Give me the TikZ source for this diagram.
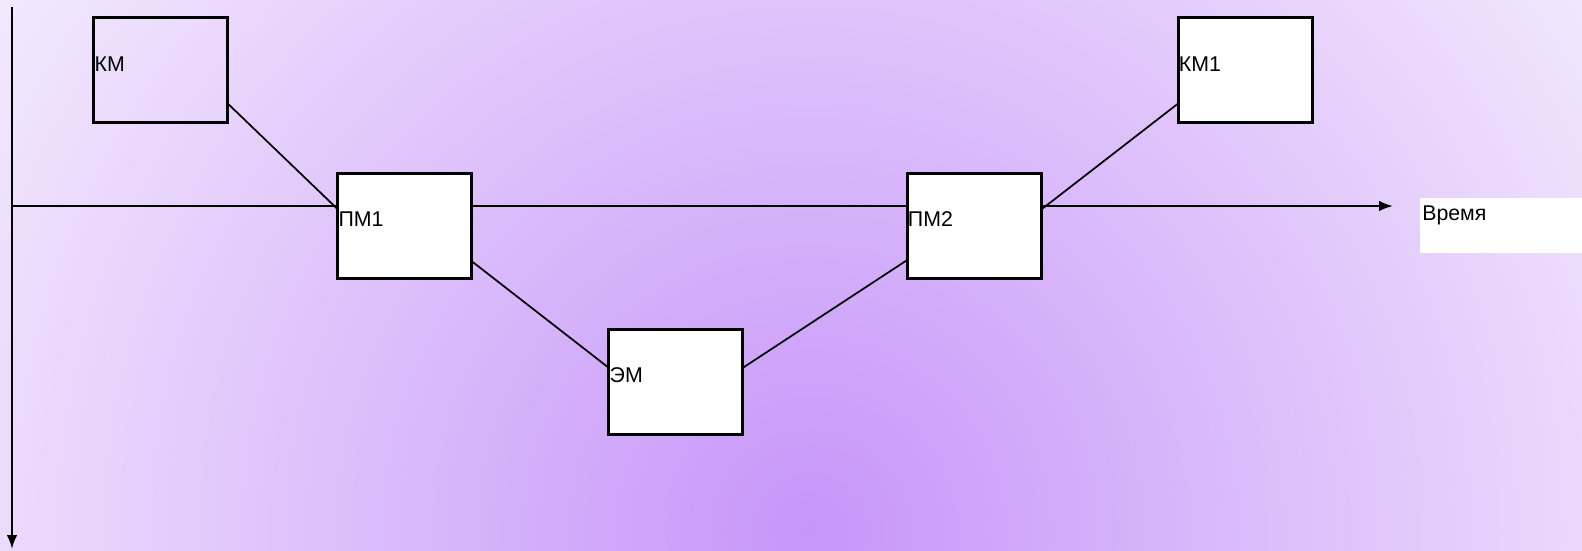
\documentclass[tikz,border=0pt]{standalone}
\usepackage{fontspec}
\setmainfont{Liberation Sans}
\usetikzlibrary{arrows.meta,calc}
\definecolor{bgin}{RGB}{199,150,249}
\definecolor{bgout}{RGB}{244,236,253}
\pgfdeclareradialshading{bgshade}{\pgfpointorigin}{color(0bp)=(bgin); color(25bp)=(bgout); color(50bp)=(bgout)}
\begin{document}
\begin{tikzpicture}[x=0.75pt,y=-0.75pt,
  box/.style={draw=black,line width=2.25pt,minimum width=100.5pt,minimum height=78.75pt,inner sep=0pt,outer sep=0pt},
  wbox/.style={box,fill=white},
  lbl/.style={font=\fontsize{16pt}{19pt}\selectfont,inner sep=0pt,anchor=base west},
  conn/.style={line width=1.3pt,black},
  axis/.style={line width=1.6pt,black,-{Latex[length=10.5pt,width=8pt]}}]
\useasboundingbox (0,0) rectangle (1582,550);
\begin{scope}
\clip (0,0) rectangle (1582,550);
\fill[bgout] (0,0) rectangle (1582,550);
\shade[shading=bgshade] (810,530) circle (1000);
\end{scope}
% axes
\coordinate (vtop) at (12,7);
\coordinate (vbot) at (12,549);
\coordinate (horg) at (12,206);
\coordinate (hend) at (1393,206);
\draw[axis] (vtop) -- (vbot);
\draw[axis] (horg) -- (hend);
% boxes
\node[box] (KM) at (160.8,70) {};
\node[wbox] (PM1) at (404.7,225.5) {};
\node[wbox] (EM) at (675.8,381.5) {};
\node[wbox] (PM2) at (974,225.5) {};
\node[wbox] (KM1) at (1245,70) {};
\node[fill=white,inner sep=0pt,minimum width=121.5pt,minimum height=41.25pt,anchor=north west] (T) at (1420,198) {};
% labels
\node[lbl] (tKM) at ([xshift=0.5pt,yshift=-0.75pt]KM.west) {КМ};
\node[lbl] (tPM1) at ([xshift=0.5pt,yshift=-0.75pt]PM1.west) {ПМ1};
\node[lbl] (tEM) at ([xshift=0.5pt,yshift=-0.75pt]EM.west) {ЭМ};
\node[lbl] (tPM2) at ([xshift=0.5pt,yshift=-0.75pt]PM2.west) {ПМ2};
\node[lbl] (tKM1) at ([xshift=0.5pt,yshift=-0.75pt]KM1.west) {КМ1};
\node[lbl] (tT) at ([xshift=1.5pt,yshift=-17pt]T.north west) {Время};
% connectors
\draw[conn] ($(KM.north east)!0.82!(KM.south east)$) -- ($(PM1.north west)!0.345!(PM1.south west)$);
\draw[conn] ($(PM1.north east)!0.84!(PM1.south east)$) -- ($(EM.north west)!0.37!(EM.south west)$);
\draw[conn] ($(EM.north east)!0.37!(EM.south east)$) -- ($(PM2.north west)!0.83!(PM2.south west)$);
\draw[conn] ($(PM2.north east)!0.35!(PM2.south east)$) -- ($(KM1.north west)!0.82!(KM1.south west)$);
\end{tikzpicture}
\end{document}
